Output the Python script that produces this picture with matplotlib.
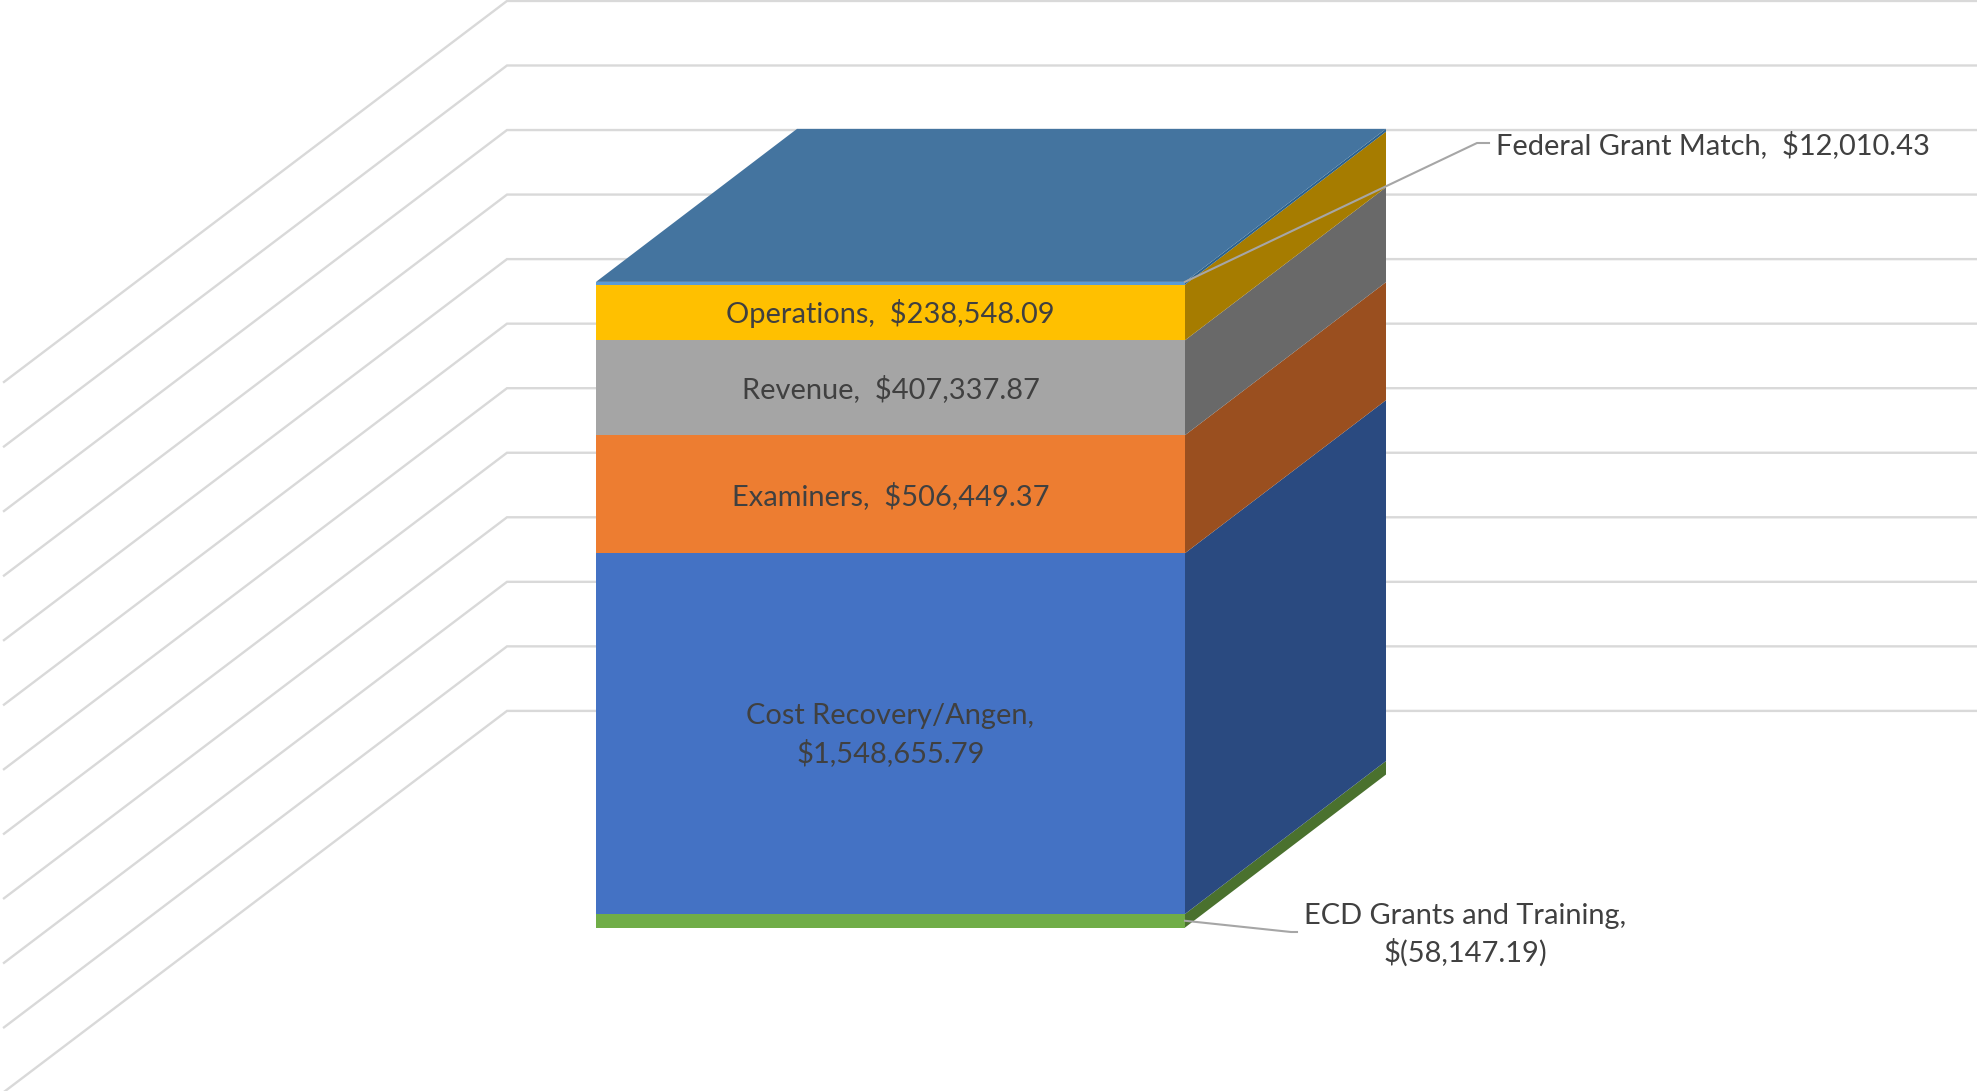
import matplotlib
matplotlib.use("Agg")
import matplotlib.pyplot as plt
from matplotlib.patches import Polygon

plt.rcParams['font.family'] = ['Lato', 'DejaVu Sans']

# Budget components, stacked from the bottom up
categories = ["ECD Grants and Training", "Cost Recovery/Angen", "Examiners",
              "Revenue", "Operations", "Federal Grant Match"]
values = [-58147.19, 1548655.79, 506449.37, 407337.87, 238548.09, 12010.43]
value_labels = ["$(58,147.19)", "$1,548,655.79", "$506,449.37",
                "$407,337.87", "$238,548.09", "$12,010.43"]
front_colors = ["#70AD47", "#4472C4", "#ED7D31", "#A5A5A5", "#FFC000", "#5B9BD5"]
side_colors = ["#4A712E", "#2A4A80", "#9A4F1F", "#696969", "#A67C00", "#2B628F"]
top_color = "#44749F"
gridline_levels = [215000, 492000, 769000, 1046000, 1323000, 1600000,
                   1877000, 2154000, 2431000, 2708000, 2985000, 3262000]

W, H = 1977, 1091
PX_PER_DOLLAR = 0.000233
ZERO_PX = 914            # pixel row of the zero level on the front face
BAR_LEFT, BAR_RIGHT = 596, 1185
DEPTH_X, DEPTH_PX = 201, 153
WALL_LEFT = 507
FLOOR_DX, FLOOR_PX = 503, 381
depth_val = DEPTH_PX / PX_PER_DOLLAR
floor_val = FLOOR_PX / PX_PER_DOLLAR
text_nudge = -1.5 / PX_PER_DOLLAR   # optical centring of the in-bar labels

fig = plt.figure(figsize=(W / 100, H / 100), dpi=100, facecolor="white")
ax = fig.add_axes([0, 0, 1, 1])
ax.set_xlim(0, W)
ax.set_ylim(-(H - ZERO_PX) / PX_PER_DOLLAR, ZERO_PX / PX_PER_DOLLAR)
ax.axis("off")

# Back wall and side wall gridlines
for level in gridline_levels:
    y = level + depth_val
    ax.plot([WALL_LEFT - FLOOR_DX, WALL_LEFT, W], [y - floor_val, y, y],
            color="#D9D9D9", lw=1.7, solid_joinstyle="miter", zorder=1)

# Stacked segments: front face plus the receding right face
neg_total = sum(v for v in values if v < 0)
bottom = neg_total
mids = {}
for name, v, fc, sc in zip(categories, values, front_colors, side_colors):
    top = bottom + abs(v)
    ax.add_patch(Polygon([(BAR_LEFT, bottom), (BAR_RIGHT, bottom),
                          (BAR_RIGHT, top), (BAR_LEFT, top)],
                         closed=True, fc=fc, ec="none", zorder=3))
    ax.add_patch(Polygon([(BAR_RIGHT, bottom), (BAR_RIGHT + DEPTH_X, bottom + depth_val),
                          (BAR_RIGHT + DEPTH_X, top + depth_val), (BAR_RIGHT, top)],
                         closed=True, fc=sc, ec="none", zorder=3))
    mids[name] = (bottom + top) / 2
    bottom = top

# Lid of the stack
ax.add_patch(Polygon([(BAR_LEFT, bottom), (BAR_RIGHT, bottom),
                      (BAR_RIGHT + DEPTH_X, bottom + depth_val),
                      (BAR_LEFT + DEPTH_X, bottom + depth_val)],
                     closed=True, fc=top_color, ec="none", zorder=3))

text_kw = dict(color="#404040", fontsize=20.9, ha="center", va="center",
               linespacing=1.42, zorder=5)
centre_x = (BAR_LEFT + BAR_RIGHT) / 2
for i in (4, 3, 2, 1):
    sep = ",  " if i != 1 else ",\n"
    ax.text(centre_x, mids[categories[i]] + text_nudge,
            f"{categories[i]}{sep}{value_labels[i]}", **text_kw)


def px(row):
    """Convert a pixel row to the dollar-valued vertical axis."""
    return (ZERO_PX - row) / PX_PER_DOLLAR


# Callout labels and their leader lines
ax.plot([BAR_RIGHT, 1477, 1489], [bottom, px(143), px(143)], color="#A6A6A6", lw=1.5, zorder=4)
ax.text(1496, px(145), f"{categories[5]},  {value_labels[5]}",
        **{**text_kw, "ha": "left"})
ax.plot([BAR_RIGHT, 1291, 1297], [mids[categories[0]], px(932), px(932)],
        color="#A6A6A6", lw=1.5, zorder=4)
ax.text(1465, px(935), f"{categories[0]},\n{value_labels[0]}", **text_kw)

fig.savefig("out.png", dpi=100, facecolor="white")
